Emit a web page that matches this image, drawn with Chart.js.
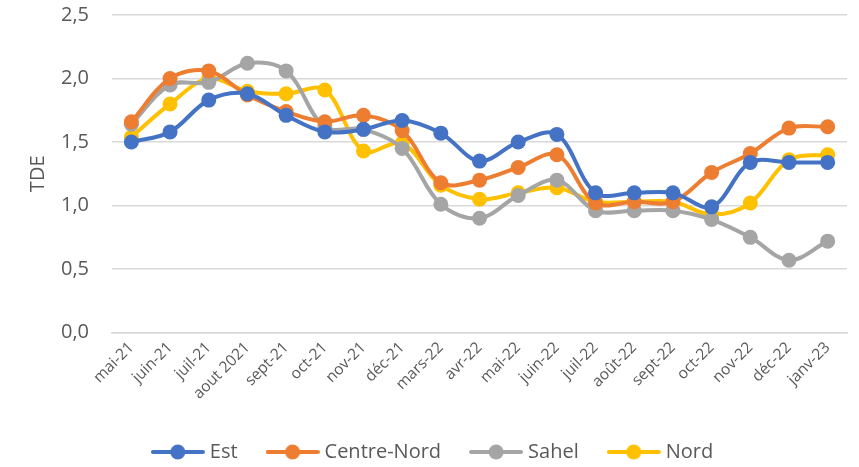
<!DOCTYPE html>
<html>
<head>
<meta charset="utf-8">
<script src="https://cdn.jsdelivr.net/npm/chart.js@4"></script>
<style>
  html, body { margin: 0; padding: 0; background: #fff; }
  #wrap { width: 859px; height: 467px; }
</style>
</head>
<body>
<div id="wrap"><canvas id="graph" width="859" height="467"></canvas></div>
<script>
// months on the x axis
const months = ['mai-21', 'juin-21', 'juil-21', 'aout 2021', 'sept-21', 'oct-21', 'nov-21', 'déc-21',
    'mars-22', 'avr-22', 'mai-22', 'juin-22', 'juil-22', 'août-22', 'sept-22', 'oct-22', 'nov-22', 'déc-22', 'janv-23']

// TDE values per region
const est = [1.50, 1.58, 1.83, 1.88, 1.71, 1.58, 1.60, 1.67, 1.57, 1.35, 1.50, 1.56, 1.10, 1.10, 1.10, 0.99, 1.34, 1.34, 1.34]
const centreNord = [1.66, 2.00, 2.06, 1.87, 1.74, 1.66, 1.71, 1.59, 1.18, 1.20, 1.30, 1.40, 1.02, 1.03, 1.03, 1.26, 1.41, 1.61, 1.62]
const sahel = [1.64, 1.95, 1.97, 2.12, 2.06, 1.62, 1.60, 1.45, 1.01, 0.90, 1.08, 1.20, 0.96, 0.96, 0.96, 0.89, 0.75, 0.57, 0.72]
const nord = [1.54, 1.80, 2.00, 1.90, 1.88, 1.91, 1.43, 1.49, 1.16, 1.05, 1.10, 1.14, 1.03, 1.03, 1.03, 0.93, 1.02, 1.36, 1.40]

const seriesNames = ['Est', 'Centre-Nord', 'Sahel', 'Nord']
const seriesColors = ['#4472C4', '#ED7D31', '#A5A5A5', '#FFC000']

// legend marker: short line with a dot, like excel
function legendMarker(color) {
    let c = document.createElement('canvas')
    c.width = 54
    c.height = 16
    let g = c.getContext('2d')
    g.strokeStyle = color
    g.lineWidth = 4
    g.lineCap = 'round'
    g.beginPath()
    g.moveTo(2, 8)
    g.lineTo(52, 8)
    g.stroke()
    g.fillStyle = color
    g.beginPath()
    g.arc(27, 8, 7.5, 0, Math.PI * 2)
    g.fill()
    return c
}

const allData = [est, centreNord, sahel, nord]
let datasets = allData.map((d, i) => ({
    label: seriesNames[i],
    data: d,
    borderColor: seriesColors[i],
    backgroundColor: seriesColors[i],
    borderWidth: 4,
    pointRadius: 7.5,
    pointHoverRadius: 7.5,
    pointBorderWidth: 0,
    tension: 0.35,
}))

Chart.defaults.font.family = '"Open Sans", "Noto Sans", sans-serif'
Chart.defaults.color = '#595959'

new Chart(document.getElementById('graph'), {
    type: 'line',
    data: { labels: months, datasets: datasets },
    options: {
        responsive: false,
        animation: false,
        layout: { padding: { left: 22, right: 12, top: 0, bottom: -5 } },
        scales: {
            x: {
                offset: true,
                grid: { display: false, drawTicks: false },
                border: { display: true, color: '#d9d9d9', width: 1.5 },
                ticks: {
                    autoSkip: false,
                    minRotation: 45,
                    maxRotation: 45,
                    padding: 6,
                    font: { size: 15.5 }
                }
            },
            y: {
                min: 0,
                max: 2.5,
                ticks: {
                    stepSize: 0.5,
                    padding: 3,
                    font: { size: 20 },
                    callback: v => v.toFixed(1).replace('.', ',')
                },
                // invisible tick marks keep the gap between labels and grid
                grid: { color: '#d9d9d9', lineWidth: 1.5, drawTicks: true, tickLength: 20, tickColor: 'rgba(0,0,0,0)' },
                border: { display: false },
                title: {
                    display: true,
                    text: 'TDE',
                    font: { size: 20 },
                    padding: { bottom: 8 }
                }
            }
        },
        plugins: {
            legend: {
                position: 'bottom',
                labels: {
                    usePointStyle: true,
                    pointStyleWidth: 44,
                    padding: 33,
                    font: { size: 20 },
                    generateLabels: chart => chart.data.datasets.map((ds, i) => ({
                        text: ds.label,
                        pointStyle: legendMarker(seriesColors[i]),
                        fillStyle: seriesColors[i],
                        strokeStyle: seriesColors[i],
                        lineWidth: 0,
                        fontColor: '#595959',
                        datasetIndex: i
                    }))
                }
            },
            tooltip: { enabled: false }
        }
    }
})
</script>
</body>
</html>
